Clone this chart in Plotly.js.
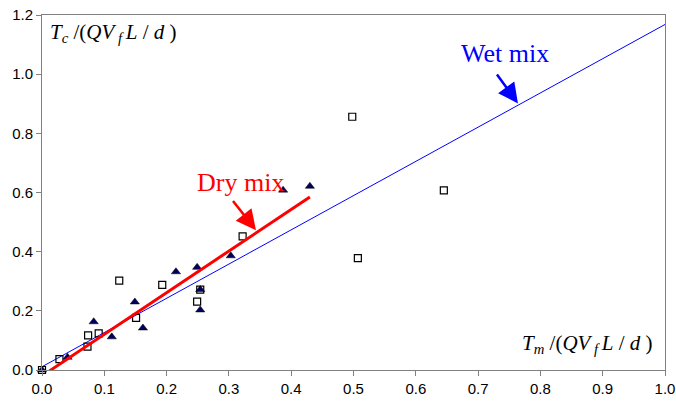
<!DOCTYPE html>
<html><head><meta charset="utf-8">
<script src="https://cdn.plot.ly/plotly-3.0.1.min.js"></script>
<style>html,body{margin:0;padding:0;background:#fff}</style>
</head><body><div id="chart" style="width:676px;height:402px"></div>
<script>
// Wet mix (open squares)
const wetX = [0, 0.028, 0.073, 0.074, 0.091, 0.124, 0.151, 0.193, 0.249, 0.254, 0.322, 0.498, 0.507, 0.645];
const wetY = [0, 0.037, 0.079, 0.117, 0.124, 0.302, 0.176, 0.288, 0.231, 0.272, 0.452, 0.856, 0.378, 0.607];
// Dry mix (filled triangles)
const dryX = [0, 0.041, 0.083, 0.112, 0.149, 0.162, 0.215, 0.249, 0.254, 0.254, 0.303, 0.387, 0.430];
const dryY = [0, 0.043, 0.163, 0.112, 0.230, 0.142, 0.332, 0.347, 0.272, 0.203, 0.386, 0.608, 0.621];
// Fitted lines
const wetLineX = [0, 1.0];
const wetLineY = [0.011, 1.168];
const dryLineX = [0.012, 0.43];
const dryLineY = [-0.003, 0.585];
const xTicks = [0, 0.1, 0.2, 0.3, 0.4, 0.5, 0.6, 0.7, 0.8, 0.9, 1.0];
const yTicks = [0, 0.2, 0.4, 0.6, 0.8, 1.0, 1.2];

const traces = [
  {x: wetLineX, y: wetLineY, mode: 'lines', line: {color: '#0000ff', width: 1}, hoverinfo: 'skip'},
  {x: dryX, y: dryY, mode: 'markers', marker: {symbol: 'triangle-up', size: 8, color: '#000060', line: {color: '#000000', width: 0.5}}, cliponaxis: false},
  {x: wetX, y: wetY, mode: 'markers', marker: {symbol: 'square-open', size: 7, color: '#000000', line: {width: 1.2}}, cliponaxis: false},
  {x: dryLineX, y: dryLineY, mode: 'lines', line: {color: '#ff0000', width: 3}, hoverinfo: 'skip'}
];

const sans = "'Liberation Sans', Arial, sans-serif";
const serif = "'Liberation Serif', 'Times New Roman', serif";
const axisCommon = {
  showgrid: false, zeroline: false, showline: true, linecolor: '#808080', linewidth: 1,
  mirror: true, ticks: 'outside', ticklen: 5, tickcolor: '#808080', tickwidth: 1,
  tickfont: {family: sans, size: 15, color: '#000'},
  tickformat: '.1f', tickmode: 'array'
};

const layout = {
  width: 676, height: 402,
  margin: {l: 42, r: 11, t: 15, b: 32},
  paper_bgcolor: '#fff', plot_bgcolor: '#fff',
  showlegend: false,
  xaxis: Object.assign({}, axisCommon, {range: [0, 1.0], tickvals: xTicks}),
  yaxis: Object.assign({}, axisCommon, {range: [0, 1.2], tickvals: yTicks}),
  annotations: [
    {xref: 'paper', yref: 'paper', x: 0.0096, y: 0.948, xanchor: 'left', yanchor: 'middle', showarrow: false,
     text: '<i>T</i><sub><i>c</i></sub> /(<i>QV</i><sub> <i>f</i> </sub><i>L</i> / <i>d</i> )', font: {family: serif, size: 21, color: '#000'}},
    {xref: 'paper', yref: 'paper', x: 0.984, y: 0.073, xanchor: 'right', yanchor: 'middle', showarrow: false,
     text: '<i>T</i><sub><i>m</i></sub> /(<i>QV</i><sub> <i>f</i> </sub><i>L</i> / <i>d</i> )', font: {family: serif, size: 21, color: '#000'}},
    {x: 0.318, y: 0.635, showarrow: false, text: 'Dry mix', font: {family: serif, size: 26, color: '#ff0000'}},
    {x: 0.743, y: 1.070, showarrow: false, text: 'Wet mix', font: {family: serif, size: 26, color: '#0000ff'}},
    {x: 0.3435, y: 0.4726, ax: -26, ay: -33, showarrow: true, text: ' ', arrowhead: 2, arrowsize: 1.6, arrowwidth: 2.5, arrowcolor: '#ff0000'},
    {x: 0.764, y: 0.901, ax: -24, ay: -33, showarrow: true, text: ' ', arrowhead: 2, arrowsize: 1.6, arrowwidth: 2.5, arrowcolor: '#0000ff'}
  ]
};

Plotly.newPlot('chart', traces, layout, {displayModeBar: false, staticPlot: true});
</script>
</body></html>
